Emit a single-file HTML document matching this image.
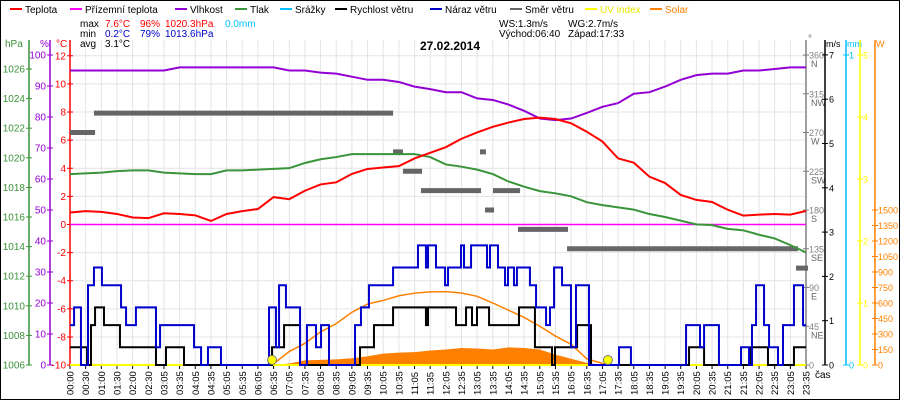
<!DOCTYPE html>
<html><head><meta charset="utf-8"><style>
html,body{margin:0;padding:0;background:#fff}
svg{display:block;font-family:"Liberation Sans",sans-serif;font-size:10px}
</style></head><body>
<svg id="chart" width="900" height="400" viewBox="0 0 900 400" xmlns="http://www.w3.org/2000/svg">
<rect x="0.5" y="0.5" width="899" height="399" fill="#fff" stroke="#000"/>
<g id="grid"></g>
<g id="legend">
 <g><line x1="10" y1="9" x2="22" y2="9" stroke="#f00" stroke-width="2"/><text x="25" y="13">Teplota</text></g>
 <g><line x1="70" y1="9" x2="82" y2="9" stroke="#f0f" stroke-width="2"/><text x="85" y="13">Přízemní teplota</text></g>
 <g><line x1="175" y1="9" x2="187" y2="9" stroke="#9400d3" stroke-width="2"/><text x="190" y="13">Vlhkost</text></g>
 <g><line x1="235" y1="9" x2="247" y2="9" stroke="#3a943a" stroke-width="2"/><text x="250" y="13">Tlak</text></g>
 <g><line x1="280" y1="9" x2="292" y2="9" stroke="#00bfff" stroke-width="2"/><text x="295" y="13">Srážky</text></g>
 <g><line x1="335" y1="9" x2="347" y2="9" stroke="#000" stroke-width="2"/><text x="350" y="13">Rychlost větru</text></g>
 <g><line x1="430" y1="9" x2="442" y2="9" stroke="#0000cc" stroke-width="2"/><text x="445" y="13">Náraz větru</text></g>
 <g><line x1="510" y1="9" x2="522" y2="9" stroke="#666" stroke-width="2"/><text x="525" y="13">Směr větru</text></g>
 <g><line x1="585" y1="9" x2="597" y2="9" stroke="#ff0" stroke-width="2"/><text x="600" y="13" fill="#e6e600">UV index</text></g>
 <g><line x1="650" y1="9" x2="662" y2="9" stroke="#ff8000" stroke-width="2"/><text x="665" y="13" fill="#ff8000">Solar</text></g>
</g>
<g>
 <text x="80" y="27">max</text><text x="105" y="27" fill="#f00">7.6°C</text><text x="140" y="27" fill="#f00">96%</text><text x="165" y="27" fill="#f00">1020.3hPa</text><text x="225" y="27" fill="#00bfff">0.0mm</text>
 <text x="80" y="37">min</text><text x="105" y="37" fill="#00c">0.2°C</text><text x="140" y="37" fill="#00c">79%</text><text x="165" y="37" fill="#00c">1013.6hPa</text>
 <text x="80" y="47">avg</text><text x="105" y="47">3.1°C</text>
 <text x="499" y="27">WS:1.3m/s</text><text x="568" y="27">WG:2.7m/s</text>
 <text x="499" y="37">Východ:06:40</text><text x="568" y="37">Západ:17:33</text>
</g>
<text x="450" y="50" text-anchor="middle" font-weight="bold" font-size="12">27.02.2014</text>
<g id="axes">
 <text x="5" y="47" fill="#3a943a">hPa</text><text x="40" y="47" fill="#9400d3">%</text><text x="56" y="47" fill="#f00">°C</text>
 <text x="808" y="42" fill="#666">°</text><text x="826" y="47" font-size="9">m/s</text><text x="847" y="47" font-size="9" fill="#00bfff">mm</text><text x="876" y="47" font-size="9" fill="#ff8000">W</text>
 <text x="815" y="378">čas</text>
</g>
<g id="marks"></g>
</svg>
<script>
const NS="http://www.w3.org/2000/svg";
const timeLabels=["00:00","00:30","01:00","01:30","02:00","02:30","03:05","03:35","04:05","04:35","05:05","05:35","06:05","06:35","07:05","07:35","08:05","08:35","09:05","09:35","10:05","10:35","11:05","11:35","12:05","12:35","13:05","13:35","14:05","14:35","15:05","15:35","16:05","16:35","17:05","17:35","18:05","18:35","19:05","19:35","20:05","20:35","21:05","21:35","22:05","22:35","23:05","23:35"];
const tempVals=[0.85,0.95,0.9,0.75,0.5,0.45,0.8,0.75,0.65,0.25,0.75,0.95,1.1,1.95,1.8,2.4,2.85,3.0,3.6,3.95,4.05,4.15,4.7,5.1,5.5,6.1,6.55,6.95,7.25,7.5,7.6,7.5,7.2,6.6,5.9,4.7,4.4,3.4,2.95,2.1,1.75,1.6,1.05,0.63,0.7,0.75,0.7,0.96];
const humVals=[95,95,95,95,95,95,95,96,96,96,96,96,96,96,95,95,94.3,94,93,92,92,91.3,89.8,89,88,88,86,85.5,84,82,79.5,79,79.5,81.3,83.3,84.5,87.5,88,89.8,92,93.5,94,94,95,95,95.5,96,96];
const presVals=[1018.9,1018.95,1019.0,1019.1,1019.15,1019.15,1019.0,1018.95,1018.9,1018.9,1019.15,1019.15,1019.2,1019.25,1019.3,1019.65,1019.9,1020.05,1020.25,1020.25,1020.25,1020.25,1020.25,1020.05,1019.55,1019.4,1019.2,1018.9,1018.4,1018.05,1017.75,1017.6,1017.4,1017.0,1016.8,1016.65,1016.5,1016.2,1016.0,1015.75,1015.5,1015.45,1015.2,1015.1,1014.8,1014.55,1014.1,1013.6];
const solarSlots=[13,14,15,16,17,18,19,20,21,22,23,24,25,26,27,28,29,30,31,32,33,34];
const solarVals=[0,15,45,50,55,65,85,110,120,125,140,150,165,160,150,170,165,150,100,60,20,0];
const clearSlots=[12.9,14,15,16,17,18,19,20,21,22,23,24,25,26,27,28,29,30,31,32,33,34.35];
const clearVals=[0,130,210,320,400,510,590,625,670,695,708,710,697,665,600,530,460,375,280,200,60,0];
const windSlots=[0,1.09,1.34,1.6,2.17,3.19,5.49,6.13,7.28,12.9,13.67,14.69,18.52,19.41,20.63,22.73,22.86,24.65,25.29,25.67,25.99,26.76,28.67,29.69,30.78,30.97,32.38,33.27,39.53,40.49,43.49,44.57,46.23];
const windVals=[0.4,0,0.9,1.3,0.9,0.4,0,0.4,0,0.4,0.9,0,0.4,0.9,1.3,0.9,1.3,0.9,1.3,0.9,1.3,0.9,1.3,0.4,0,0.4,0.9,0,0.4,0,0.4,0,0.4];
const gustSlots=[0,0.26,0.7,1.15,1.53,2.04,3.26,3.58,4.21,5.49,5.75,7.92,8.37,8.81,9.64,12.71,13.15,13.35,13.79,14.69,15.13,15.71,16.03,16.54,18.2,18.58,19.09,20.63,22.22,22.73,22.86,23.37,23.95,24.14,24.97,25.16,25.61,26.63,26.82,27.33,27.78,27.97,28.35,28.54,29.37,29.76,30.4,30.65,30.91,31.42,31.99,32.31,33.14,35.06,35.82,39.34,40.23,40.49,41.44,42.85,43.36,43.55,43.81,44.32,44.64,45.21,45.53,46.23,46.81];
const gustVals=[0.9,1.3,0,1.8,2.2,1.8,1.3,0.9,1.3,0.4,0.9,0.4,0,0.4,0,1.3,0.4,1.8,1.3,0,0.9,0.4,0.9,0,0.9,1.3,1.8,2.2,2.7,2.2,2.7,2.2,1.8,2.2,2.7,2.2,2.7,2.2,2.7,2.2,1.8,2.2,1.8,2.2,1.8,1.3,0.9,1.3,2.2,1.8,0.4,1.8,0,0.4,0,0.9,0.4,0.9,0,0.4,0,0.9,1.8,0.9,0.4,0,0.9,1.8,0.9];
const dirStart=[0,1.53,20.63,21.26,22.41,26.18,26.5,27.01,28.61,31.74,46.36];
const dirEnd=[1.6,20.63,21.26,22.48,26.25,26.56,27.08,28.74,31.8,46.49,47.13];
const dirDeg=[270,292.5,247.5,225,202.5,247.5,180,202.5,157.5,135,112.5];
const sunEvents=[12.9,34.35];
const hpaTicks=[1006,1008,1010,1012,1014,1016,1018,1020,1022,1024,1026];
const humTicks=[0,10,20,30,40,50,60,70,80,90,100];
const tempTicks=[-10,-8,-6,-4,-2,0,2,4,6,8,10,12];
const dirTicks=[0,45,90,135,180,225,270,315,360];
const dirNames=["","NE","E","SE","S","SW","W","NW","N"];
const msTicks=[0,1,2,3,4,5,6,7];
const uvTicks=[0,1,2,3,4,5];
const wTicks=[0,150,300,450,600,750,900,1050,1200,1350,1500];

const xS=s=>70+s*15.66;
const yT=t=>224.5-14.06*t;
const yH=h=>365-3.1*h;
const yP=p=>365-14.8*(p-1006);
const yW=v=>365-44.3*v;
const ySol=w=>365-0.10333*w;
const yDir=d=>365-d*310/360;
const yUV=u=>365-u*62;

const grid=document.getElementById('grid');
const axes=document.getElementById('axes');
const marks=document.getElementById('marks');
function mk(tag,attrs,parent,txt){const e=document.createElementNS(NS,tag);for(const k in attrs)e.setAttribute(k,attrs[k]);if(txt!==undefined)e.textContent=txt;parent.appendChild(e);return e;}

tempTicks.forEach(t=>{const l=mk('line',{x1:70,x2:806,y1:yT(t),y2:yT(t),stroke:'#e4e4e4','stroke-width':1},grid);

});
timeLabels.forEach((lab,i)=>{const x=xS(i);
const l=mk('line',{x1:x,x2:x,y1:40,y2:365,stroke:'#e4e4e4','stroke-width':1},grid);


const tk=mk('line',{x1:x,x2:x,y1:365,y2:369,stroke:'#000'},axes);


const t=mk('text',{x:0,y:0,transform:`translate(${x+3.5},395) rotate(-90)`,'font-size':'9.5'},axes,lab);

});

function vaxis(x,color,ticks,yf,labelX,anchor,name,fs){
 const a=mk('line',{x1:x,x2:x,y1:40,y2:365,stroke:color,'stroke-width':1.5},axes);
 
 
 ticks.forEach((v,i)=>{const y=yf(v);
  mk('line',{x1:x-3,x2:x+3,y1:y,y2:y,stroke:color},axes);
  const t=mk('text',{x:labelX,y:y+3.5,fill:color,'text-anchor':anchor,'font-size':fs||10},axes,v);
  
  });
}
vaxis(29,'#3a943a',hpaTicks,yP,25,'end','hpa');
vaxis(50,'#9400d3',humTicks,yH,46,'end','humidity');
vaxis(70,'#f00',tempTicks,yT,66,'end','temperature');
vaxis(806,'#808080',dirTicks,yDir,809,'start','direction',9);
dirTicks.forEach((d,i)=>{const t=mk('text',{x:811,y:yDir(d)+12,fill:'#666','font-size':9},axes,dirNames[i]);

});
vaxis(825,'#000',msTicks,yW,829,'start','wind-speed',9);
vaxis(846,'#00bfff',[0,1],v=>365-v*310,849,'start','rain',9);
vaxis(860,'#ffff00',uvTicks,yUV,863,'start','uv',9);
vaxis(875,'#ff8000',wTicks,ySol,878,'start','solar',9);

let d=`M${xS(solarSlots[0])},365`;
solarSlots.forEach((s,i)=>{d+=` L${xS(s)},${ySol(solarVals[i])}`;});
d+=` L${xS(solarSlots[solarSlots.length-1])},365 Z`;
const sa=mk('path',{d:d,fill:'#ff8000',stroke:'none'},marks);


const cl=mk('path',{d:clearSlots.map((s,i)=>(i?'L':'M')+xS(s)+','+ySol(clearVals[i])).join(' '),fill:'none',stroke:'#ff8000','stroke-width':1.5},marks);



const uv=mk('line',{x1:70,x2:806,y1:365,y2:365,stroke:'#ffff00','stroke-width':2},marks);



const gt=mk('line',{x1:70,x2:806,y1:yT(0),y2:yT(0),stroke:'#f0f','stroke-width':1.5},marks);



dirStart.forEach((s,i)=>{const r=mk('rect',{x:xS(s),y:yDir(dirDeg[i])-2.5,width:xS(dirEnd[i])-xS(s),height:5,fill:'#666'},marks);

});

function line(vals,yf,color,name){
 const p=mk('path',{d:vals.map((v,i)=>(i?'L':'M')+xS(i)+','+yf(v)).join(' '),fill:'none',stroke:color,'stroke-width':2},marks);
 
 
}
line(presVals,yP,'#3a943a','pressure-line');
line(humVals,yH,'#9400d3','humidity-line');
line(tempVals,yT,'#f00','temperature-line');

function step(sl,vals,color,name){
 let d='M'+xS(sl[0])+','+yW(vals[0]);
 for(let i=1;i<sl.length;i++){d+=' H'+xS(sl[i])+' V'+yW(vals[i]);}
 d+=' H'+xS(47);
 const p=mk('path',{d:d,fill:'none',stroke:color,'stroke-width':2},marks);
 
 
}
step(windSlots,windVals,'#000','wind-speed-line');
step(gustSlots,gustVals,'#0000cc','wind-gust-line');

sunEvents.forEach(s=>{const c=mk('circle',{cx:xS(s),cy:360,r:4.5,fill:'#ff0',stroke:'#777','stroke-width':1},marks);

});
</script>
</body></html>
